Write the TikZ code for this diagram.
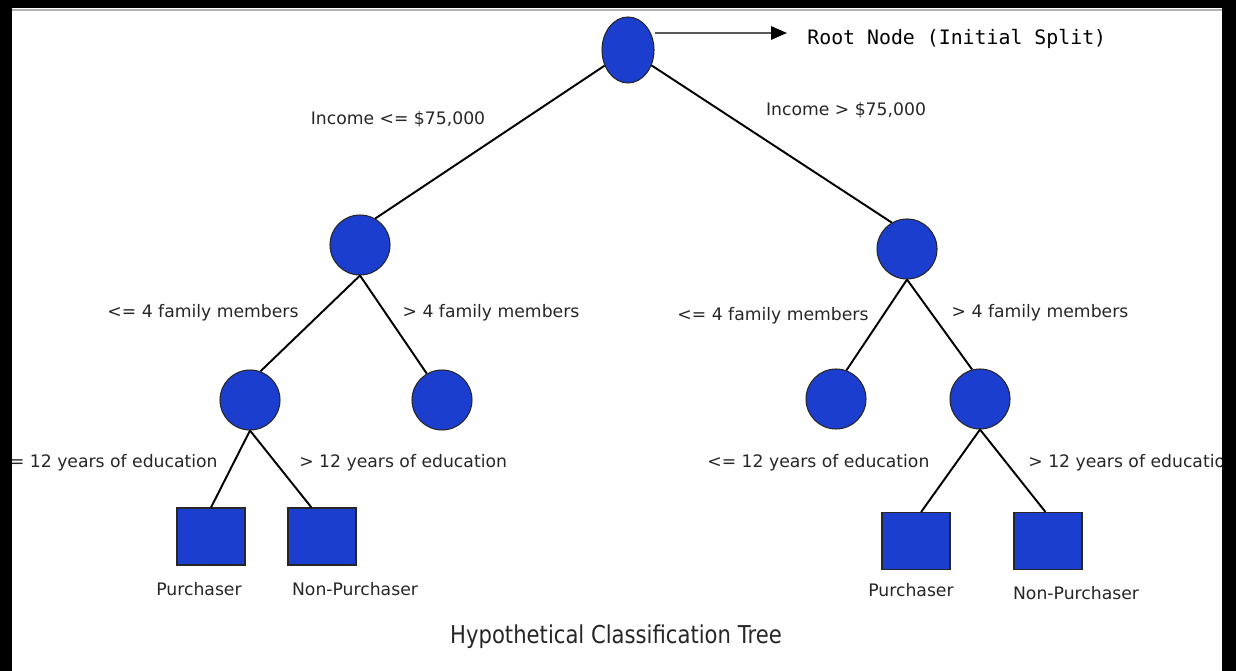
\documentclass[tikz,border=0pt]{standalone}
\usepackage{fontspec}
\setmainfont{DejaVu Sans}
\newfontfamily\rootfont{DejaVu Sans Mono}
\newfontfamily\titlefont{DejaVu Sans}[FakeStretch=0.86]
\usetikzlibrary{positioning}
\usetikzlibrary{arrows.meta,shapes.geometric}
\usepackage{color}
\definecolor{nodeblue}{RGB}{28,62,206}

\begin{document}
\begin{tikzpicture}
[x=0.02cm, y=-0.02cm, >={Triangle[length=9pt,width=7.5pt,color=black]},
 split/.style={circle, draw=black!85, fill=nodeblue, line width=0.6pt, minimum size=1.2cm, inner sep=0pt},
 leaf/.style={rectangle, draw=black!85, fill=nodeblue, line width=0.6pt, minimum width=1.36cm, minimum height=1.14cm, inner sep=0pt},
 lbl/.style={font=\fontsize{9.8}{12}\selectfont, text=black!85, inner sep=0pt},
 branch/.style={line width=1.1pt}]

\useasboundingbox (0,0) rectangle (1236,671);

% Split nodes:
\node (root) [split, ellipse, minimum width=1.04cm, minimum height=1.32cm] at (628,50) {};
\node (l)  [split] at (360,245) {};
\node (r)  [split] at (907,249) {};
\node (ll) [split] at (250,400) {};
\node (lr) [split] at (442,400) {};
\node (rl) [split] at (836,399) {};
\node (rr) [split] at (980,399) {};

% Leaves:
\node (p1) [leaf] at (211,536.5) {};
\node (n1) [leaf] at (322,536.5) {};
\node (p2) [leaf] at (916,541) {};
\node (n2) [leaf] at (1048,541) {};

% Branches:
\draw[branch] (root) -- (l.60);
\draw[branch] (root) -- (r.120);
\draw[branch] (l.south) -- (ll.70);
\draw[branch] (l.south) -- (lr.120);
\draw[branch] (r.south) -- (rl.70);
\draw[branch] (r.south) -- (rr.105);
\draw[branch] (ll.south) -- (p1.north);
\draw[branch] (ll.south) -- (n1.110);
\draw[branch] (rr.south) -- (p2.80);
\draw[branch] (rr.south) -- (n2.95);

% Pointer to the root:
\coordinate (tip) at (787,33);
\draw[->, gray!70!black, line width=1.1pt] (root.east |- tip) -- (tip);
\node (rootlbl) [anchor=west, inner sep=0pt, font=\rootfont\fontsize{11.3}{13}\selectfont] at (807,39) {Root Node (Initial Split)};

% Split labels:
\begin{scope}
\clip (12,10) rectangle (1222,671);
\node (incl)  [lbl] at (398,119) {Income <= \$75,000};
\node (incr)  [lbl] at (846,110) {Income > \$75,000};
\node (famll) [lbl] at (203,313) {<= 4 family members};
\node (famlr) [lbl] at (491,313) {> 4 family members};
\node (famrl) [lbl] at (773,316) {<= 4 family members};
\node (famrr) [lbl] at (1040,313) {> 4 family members};
\node (edull) [lbl, anchor=east] at (218,463) {<= 12 years of education};
\node (edulr) [lbl, anchor=west] at (299,463) {> 12 years of education};
\node (edurl) [lbl, anchor=west] at (707,463) {<= 12 years of education};
\node (edurr) [lbl, anchor=west] at (1028,463) {> 12 years of education};
\end{scope}

% Leaf labels:
\node (pur1) [lbl] at (199,589) {Purchaser};
\node (non1) [lbl] at (355,589) {Non-Purchaser};
\node (pur2) [lbl] at (911,590) {Purchaser};
\node (non2) [lbl] at (1076,593) {Non-Purchaser};

% Title:
\node (title) [text=black!85, font=\titlefont\fontsize{14}{16}\selectfont] at (616,637) {Hypothetical Classification Tree};

% Frame:
\fill[black] (0,0) rectangle (1236,8);
\fill[black] (0,0) rectangle (12,671);
\fill[black] (1222,0) rectangle (1236,671);
\draw[gray!60, line width=1.1pt] (12,10) -- (1222,10);

\end{tikzpicture}
\end{document}
